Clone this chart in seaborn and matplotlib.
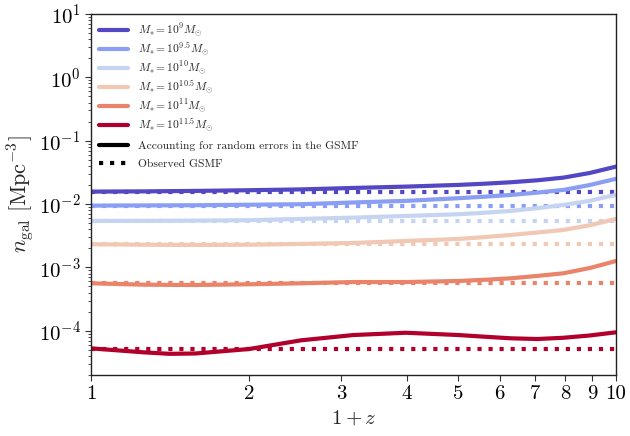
import numpy as np
import pandas as pd
import matplotlib
matplotlib.use("Agg")
import matplotlib.pyplot as plt
from matplotlib.lines import Line2D
from matplotlib.ticker import LogLocator, NullLocator, FixedLocator, FixedFormatter
import seaborn as sns

# ---- data ----
one_plus_z = [1.0, 1.26, 1.41, 1.58, 2.0, 2.51, 3.16, 3.98, 5.01, 5.62, 6.31, 7.08, 7.94, 8.91, 9.44, 10.0]

mass_labels = [r"$M_{*} = 10^{9} M_{\odot}$", r"$M_{*} = 10^{9.5} M_{\odot}$",
               r"$M_{*} = 10^{10} M_{\odot}$", r"$M_{*} = 10^{10.5} M_{\odot}$",
               r"$M_{*} = 10^{11} M_{\odot}$", r"$M_{*} = 10^{11.5} M_{\odot}$"]
style_labels = ["Accounting for random errors in the GSMF", "Observed GSMF"]

n_m9 = [0.01570, 0.01585, 0.01598, 0.01611, 0.01652, 0.01702, 0.01795, 0.01884, 0.02004, 0.02094, 0.02208, 0.0237, 0.02612, 0.0309, 0.0347, 0.03899]
n_m95 = [0.00944, 0.00951, 0.00954, 0.00957, 0.00975, 0.00993, 0.01059, 0.01122, 0.01236, 0.01306, 0.01393, 0.01514, 0.01671, 0.01995, 0.02239, 0.02495]
n_m10 = [0.00541, 0.00543, 0.00545, 0.00547, 0.00556, 0.00582, 0.00610, 0.00649, 0.00690, 0.00729, 0.00778, 0.00861, 0.00968, 0.01122, 0.01259, 0.01393]
n_m105 = [0.002317, 0.002280, 0.00227, 0.002259, 0.002280, 0.002344, 0.002427, 0.002612, 0.002812, 0.003006, 0.003251, 0.00355, 0.003899, 0.00462, 0.00519, 0.005821]
n_m11 = [5.61e-4, 5.33e-4, 5.29e-4, 5.27e-4, 5.41e-4, 5.61e-4, 5.87e-4, 5.87e-4, 6.10e-4, 6.37e-4, 6.73e-4, 7.33e-4, 8.07e-4, 9.77e-4, 1.109e-3, 1.262e-3]
n_m115 = [5.27e-5, 4.56e-5, 4.32e-5, 4.37e-5, 5.14e-5, 7.05e-5, 8.55e-5, 9.29e-5, 8.55e-5, 8.04e-5, 7.59e-5, 7.40e-5, 7.74e-5, 8.41e-5, 8.91e-5, 9.44e-5]

n_observed = [0.0155, 0.00944, 0.0054, 0.00232, 5.73e-4, 5.2e-5]

colors = ["#5447c4", "#8a9ef4", "#c5d5f1", "#f0c8b3", "#e9846a", "#b1002b"]

x_ticks = [1, 2, 3, 4, 5, 6, 7, 8, 9, 10]
x_tick_labels = ["1", "2", "3", "4", "5", "6", "7", "8", "9", "10"]

# ---- style ----
sns.set_style("ticks")
plt.rcParams["font.family"] = ["cmr10", "DejaVu Serif"]
plt.rcParams["mathtext.fontset"] = "cm"
plt.rcParams["axes.formatter.use_mathtext"] = True
plt.rcParams["axes.unicode_minus"] = False

fig = plt.figure(figsize=(6.3, 4.36), dpi=100)
ax = fig.add_axes([0.1444, 0.1399, 0.9778 - 0.1444, 0.9679 - 0.1399])

series = [n_m9, n_m95, n_m10, n_m105, n_m11, n_m115]
for vals, obs, col in zip(series, n_observed, colors):
    df = pd.DataFrame({"x": one_plus_z, "n": vals})
    sns.lineplot(data=df, x="x", y="n", color=col, lw=3, ax=ax, estimator=None)
    dfo = pd.DataFrame({"x": one_plus_z, "n": [obs] * len(one_plus_z)})
    sns.lineplot(data=dfo, x="x", y="n", color=col, lw=3, ls=":", ax=ax, estimator=None)

ax.set_xscale("log")
ax.set_yscale("log")
ax.set_xlim(1, 10)
ax.set_ylim(2e-5, 10)

ax.xaxis.set_major_locator(FixedLocator(x_ticks))
ax.xaxis.set_major_formatter(FixedFormatter(x_tick_labels))
ax.xaxis.set_minor_locator(NullLocator())
ax.yaxis.set_major_locator(LogLocator(base=10, numticks=20))
ax.yaxis.set_minor_locator(LogLocator(base=10, subs=np.arange(2, 10), numticks=20))

ax.tick_params(axis="both", which="major", labelsize=15, length=4, width=0.8, colors="#333333", labelcolor="black")
ax.tick_params(axis="y", which="minor", length=2.5, width=0.6, colors="#333333")
for s in ax.spines.values():
    s.set_visible(True)
    s.set_color("#222222")
    s.set_linewidth(1.0)

ax.set_xlabel(r"$1 + z$", fontsize=15)
ax.set_ylabel(r"$n_{\rm gal}\ [{\rm Mpc}^{-3}]$", fontsize=16, labelpad=2)

leg_kw = dict(frameon=False, fontsize=8.3, handlelength=2.5, handletextpad=0.9,
              borderaxespad=0.3, loc="upper left")
mass_handles = [Line2D([0], [0], color=c, lw=3) for c in colors]
leg1 = ax.legend(mass_handles, mass_labels, labelspacing=0.13, **leg_kw)
ax.add_artist(leg1)
style_handles = [Line2D([0], [0], color="black", lw=3),
                 Line2D([0], [0], color="black", lw=3, ls=":")]
ax.legend(style_handles, style_labels, labelspacing=0.72,
          bbox_to_anchor=(0.0, 0.671), **leg_kw)

fig.savefig("out.png", dpi=100)
